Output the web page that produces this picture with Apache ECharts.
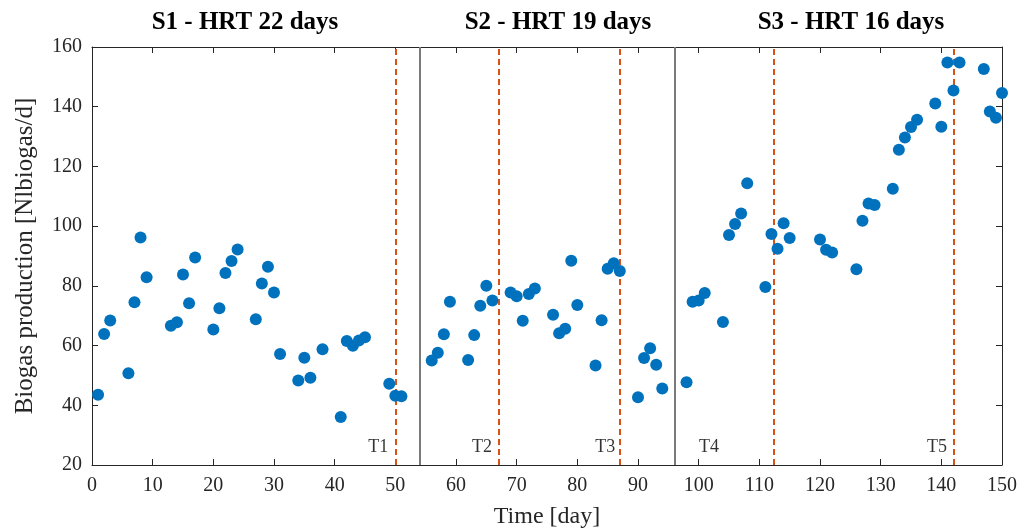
<!DOCTYPE html>
<html>
<head>
<meta charset="utf-8">
<script src="https://cdn.jsdelivr.net/npm/echarts@6/dist/echarts.min.js"></script>
<style>
    html, body { margin: 0; padding: 0; background: #fff; }
    #biogasChart { width: 1032px; height: 532px; }
</style>
</head>
<body>
<div id="biogasChart"></div>
<script>
    // sampling days and measured biogas production
    var days = [1, 2, 3, 6, 7, 8, 9, 13, 14, 15, 16, 17, 20, 21, 22, 23, 24, 27, 28, 29, 30, 31, 34, 35, 36, 38, 41, 42, 43, 44, 45, 49, 50, 51,
        56, 57, 58, 59, 62, 63, 64, 65, 66, 69, 70, 71, 72, 73, 76, 77, 78, 79, 80, 83, 84, 85, 86, 87, 90, 91, 92, 93, 94,
        98, 99, 100, 101, 104, 105, 106, 107, 108, 111, 112, 113, 114, 115, 120, 121, 122, 126, 127, 128, 129, 132, 133, 134, 135, 136, 139, 140, 141, 142, 143, 147, 148, 149, 150];
    var biogas = [43.5, 63.9, 68.4, 50.7, 74.5, 96.2, 82.9, 66.6, 67.8, 83.8, 74.2, 89.5, 65.4, 72.5, 84.3, 88.3, 92.2, 68.8, 80.8, 86.4, 77.8, 57.2, 48.3, 55.9, 49.2, 58.8, 36.1, 61.5, 59.9, 61.7, 62.8, 47.2, 43.2, 43.0,
        55.0, 57.6, 63.8, 74.7, 55.2, 63.5, 73.3, 80.0, 75.1, 77.8, 76.5, 68.3, 77.3, 79.1, 70.3, 64.1, 65.6, 88.4, 73.6, 53.3, 68.5, 85.7, 87.6, 85.0, 42.7, 55.8, 59.1, 53.6, 45.6,
        47.7, 74.7, 75.1, 77.6, 67.9, 97.0, 100.7, 104.2, 114.4, 79.6, 97.4, 92.4, 101.0, 96.0, 95.5, 92.1, 91.2, 85.6, 101.8, 107.6, 107.1, 112.5, 125.6, 129.7, 133.2, 135.6, 141.1, 133.3, 154.8, 145.4, 154.8, 152.6, 138.4, 136.3, 144.6];

    // stage boundaries (solid) and test days (dashed)
    var stageBounds = [54, 96];
    var testDays = [50, 67, 87, 112.4, 142];
    var testNames = ['T1', 'T2', 'T3', 'T4', 'T5'];
    var testLabelDays = [47.2, 64.3, 84.6, 101.7, 139.3];
    var testLabelLevel = 26;

    var stageTitles = ['S1 - HRT 22 days', 'S2 - HRT 19 days', 'S3 - HRT 16 days'];
    var stageTitleX = [245, 558, 851];

    var xTicks = { min: 0, max: 150, interval: 10 };
    var yTicks = { min: 20, max: 160, interval: 20 };

    var serif = '"Liberation Serif", "DejaVu Serif", serif';
    var axisColor = '#262626';

    var points = days.map(function (d, i) { return [d, biogas[i]]; });
    var labelPoints = testNames.map(function (n, i) { return [testLabelDays[i], testLabelLevel, n]; });

    function baseAxis(extra) {
        var ax = {
            type: 'value',
            splitLine: { show: false },
            axisLine: { show: true, onZero: false, lineStyle: { color: axisColor, width: 1 } },
            axisTick: { show: true, inside: true, length: 6, lineStyle: { color: axisColor } },
            axisLabel: { show: false }
        };
        return Object.assign(ax, extra);
    }

    var chart = echarts.init(document.getElementById('biogasChart'));
    chart.setOption({
        animation: false,
        backgroundColor: '#fff',
        grid: { left: 92, right: 30, top: 47, bottom: 67, containLabel: false, outerBoundsMode: 'none' },
        graphic: stageTitles.map(function (t, i) {
            return {
                type: 'text',
                x: stageTitleX[i],
                y: 23,
                style: {
                    text: t,
                    fill: '#000',
                    font: 'bold 25px ' + serif,
                    align: 'center',
                    verticalAlign: 'middle',
                    textAlign: 'center',
                    textVerticalAlign: 'middle'
                }
            };
        }),
        xAxis: [
            baseAxis({
                position: 'bottom',
                min: xTicks.min, max: xTicks.max, interval: xTicks.interval,
                name: 'Time [day]',
                nameLocation: 'middle',
                nameGap: 40,
                nameTextStyle: { fontFamily: serif, fontSize: 24, color: axisColor },
                axisLabel: { show: true, margin: 11, fontFamily: serif, fontSize: 20, color: axisColor }
            }),
            baseAxis({
                position: 'top',
                min: xTicks.min, max: xTicks.max, interval: xTicks.interval
            })
        ],
        yAxis: [
            baseAxis({
                position: 'left',
                min: yTicks.min, max: yTicks.max, interval: yTicks.interval,
                name: 'Biogas production [Nlbiogas/d]',
                nameLocation: 'middle',
                nameGap: 54,
                nameTextStyle: { fontFamily: serif, fontSize: 25, color: axisColor },
                axisLabel: { show: true, margin: 10, fontFamily: serif, fontSize: 20, color: axisColor }
            }),
            baseAxis({
                position: 'right',
                min: yTicks.min, max: yTicks.max, interval: yTicks.interval
            })
        ],
        series: [
            {
                name: 'bounds',
                type: 'line',
                data: [],
                markLine: {
                    silent: true,
                    symbol: ['none', 'none'],
                    label: { show: false },
                    lineStyle: { color: '#7a7a7a', width: 2, type: 'solid' },
                    data: stageBounds.map(function (d) { return { xAxis: d }; })
                }
            },
            {
                name: 'tests',
                type: 'line',
                data: [],
                markLine: {
                    silent: true,
                    symbol: ['none', 'none'],
                    label: { show: false },
                    lineStyle: { color: '#D95319', width: 2, type: [6, 4] },
                    data: testDays.map(function (d) { return { xAxis: d }; })
                }
            },
            {
                name: 'biogas',
                type: 'scatter',
                symbol: 'circle',
                symbolSize: 12,
                itemStyle: { color: '#0072BD', opacity: 1 },
                data: points,
                z: 5
            },
            {
                name: 'testLabels',
                type: 'scatter',
                symbolSize: 0,
                silent: true,
                data: labelPoints,
                label: {
                    show: true,
                    position: 'inside',
                    formatter: function (p) { return p.value[2]; },
                    fontFamily: serif,
                    fontSize: 18,
                    color: '#000'
                }
            }
        ]
    });
</script>
</body>
</html>
